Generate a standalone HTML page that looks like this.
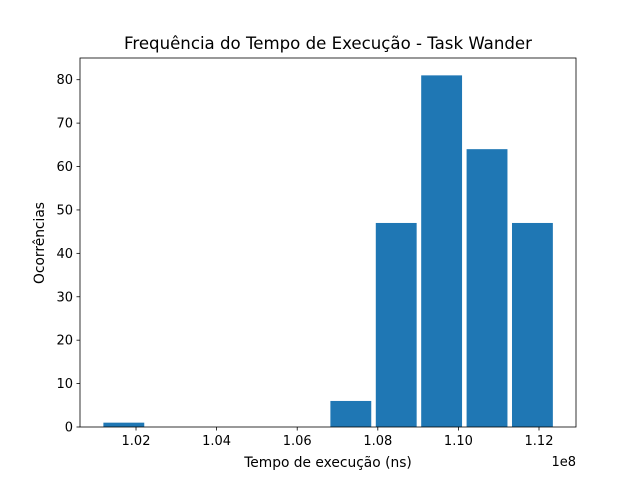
<!DOCTYPE html>
<html><head><meta charset="utf-8"><style>
body{margin:0;background:#fff;}
svg text{font-family:"DejaVu Sans","Liberation Sans",sans-serif;fill:#000;}
</style></head><body>
<svg id="chart" width="640" height="480" xmlns="http://www.w3.org/2000/svg">
<rect width="640" height="480" fill="#fff"/>
<text x="328" y="49" font-size="16.6" text-anchor="middle">Frequência do Tempo de Execução - Task Wander</text>
<g id="bars"></g>
<g id="axes"></g>
<rect x="80" y="58" width="496" height="369" fill="none" stroke="#000" stroke-width="0.8"/>
<text x="328" y="467" font-size="13.8" text-anchor="middle">Tempo de execução (ns)</text>
<text x="0" y="0" font-size="13.8" text-anchor="middle" transform="translate(44,243) rotate(-90)">Ocorrências</text>
<text x="576" y="466" font-size="13" text-anchor="end">1e8</text>
</svg>
<script>
const binStart = 1.01134;
const binWidth = 0.011266;
const counts = [1,0,0,0,0,6,47,81,64,47];
const xTicks = [1.02,1.04,1.06,1.08,1.10,1.12];
const xTickLabels = ["1.02","1.04","1.06","1.08","1.10","1.12"];
const yTicks = [0,10,20,30,40,50,60,70,80];
const xMin = 1.0061, xMax = 1.12918, yMin = 0, yMax = 85;
const L=80,R=576,T=58,B=427;
const xs = v => L + (v-xMin)/(xMax-xMin)*(R-L);
const ys = v => B - (v-yMin)/(yMax-yMin)*(B-T);
const NS="http://www.w3.org/2000/svg";
const bars=document.getElementById('bars'), axes=document.getElementById('axes');
counts.forEach((c,i)=>{
  const a=binStart+i*binWidth, w=binWidth*0.9, l=a+binWidth*0.05;
  const r=document.createElementNS(NS,'rect');
  r.setAttribute('x',xs(l)); r.setAttribute('width',xs(l+w)-xs(l));
  r.setAttribute('y',ys(c)); r.setAttribute('height',ys(0)-ys(c));
  r.setAttribute('fill','#1f77b4');
  
  
  bars.appendChild(r);
});
xTicks.forEach((v,i)=>{
  const x=xs(v);
  const l=document.createElementNS(NS,'line');
  l.setAttribute('x1',x);l.setAttribute('x2',x);l.setAttribute('y1',B);l.setAttribute('y2',B+3.5);l.setAttribute('stroke','#000');l.setAttribute('stroke-width','0.8');
  
  
  axes.appendChild(l);
  const t=document.createElementNS(NS,'text');
  t.setAttribute('x',x);t.setAttribute('y',B+18);t.setAttribute('font-size','13');t.setAttribute('text-anchor','middle');
  t.textContent=xTickLabels[i];
  
  
  axes.appendChild(t);
});
yTicks.forEach(v=>{
  const y=ys(v);
  const l=document.createElementNS(NS,'line');
  l.setAttribute('x1',L-3.5);l.setAttribute('x2',L);l.setAttribute('y1',y);l.setAttribute('y2',y);l.setAttribute('stroke','#000');l.setAttribute('stroke-width','0.8');
  
  
  axes.appendChild(l);
  const t=document.createElementNS(NS,'text');
  t.setAttribute('x',L-7);t.setAttribute('y',y+4.5);t.setAttribute('font-size','13');t.setAttribute('text-anchor','end');
  t.textContent=v;
  
  
  axes.appendChild(t);
});
</script>
</body></html>
